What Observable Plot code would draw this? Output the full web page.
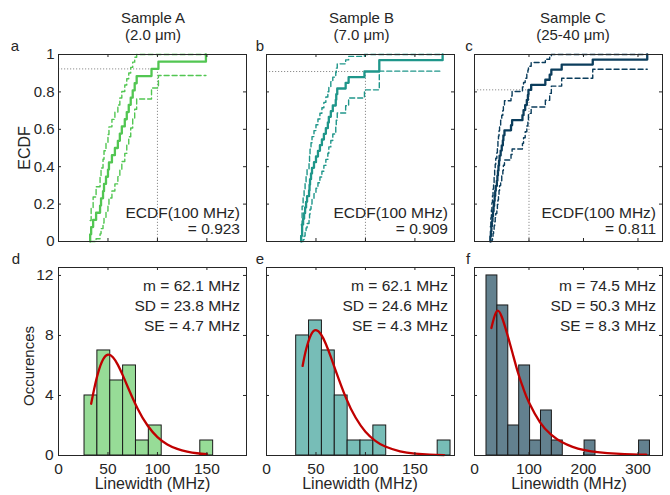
<!DOCTYPE html>
<html>
<head>
<meta charset="utf-8">
<script src="https://cdn.jsdelivr.net/npm/d3@7"></script>
<script src="https://cdn.jsdelivr.net/npm/@observablehq/plot@0.6"></script>
<style>
html, body { margin: 0; padding: 0; background: #ffffff; }
#fig { position: relative; width: 670px; height: 495px; overflow: hidden;
  font-family: "Liberation Sans", Arial, Helvetica, sans-serif; color: #262626; }
.lbl { position: absolute; font-size: 15px; line-height: 15px; white-space: nowrap; }
.lbl.big { font-size: 16px; line-height: 16px; }
</style>
</head>
<body>
<div id="fig"></div>
<script>
// ---------------- data ----------------
const sampleNames = ["Sample A", "Sample B", "Sample C"];
const sampleSizes = ["(2.0 μm)", "(7.0 μm)", "(25-40 μm)"];
const topLetters = ["a", "b", "c"];
const bottomLetters = ["d", "e", "f"];

// sorted linewidths (MHz) behind each ECDF
const linewidthA = [32,33,35,38,42,43,45,46,48,50,51,54,57,60,62,64,67,69,71,73,75,77,79,94,101,149];
const linewidthB = [35,36,36,37,38,39,40,41,43,43.5,44,45,46,48,50,52,54,56,58,60,62,63,65,67,70,70.5,71.5,80,83,99,114,114,178];
const linewidthC = [29,30,31,32,33,34,35,36,37,38,39,41,42,43,44,45,46,48,50,52,53,55,67,69,88,90,93,96,98,99,104,130,138,141,160,217,317];

// ECDF confidence bounds (dashed), one per step k = 1 .. n-1
const lowerA = [0,0,0,.015,.041,.069,.099,.130,.163,.198,.233,.270,.308,.347,.387,.428,.471,.515,.560,.607,.656,.707,.762,.821,.888];
const upperA = [.112,.179,.238,.293,.344,.393,.440,.485,.529,.572,.613,.653,.692,.730,.767,.802,.837,.870,.901,.931,.959,.985,1,1,1];
const lowerB = [0,0,0,.010,.029,.050,.073,.096,.121,.146,.173,.200,.227,.256,.285,.314,.345,.376,.407,.439,.472,.506,.540,.575,.611,.648,.687,.726,.767,.811,.858,.911];
const upperB = [.089,.142,.189,.233,.274,.313,.352,.389,.425,.460,.494,.528,.561,.593,.624,.655,.686,.715,.744,.773,.801,.827,.854,.879,.904,.927,.950,.971,.990,1,1,1];
const lowerC = [0,0,0,.008,.025,.043,.063,.084,.105,.127,.150,.174,.198,.222,.247,.273,.299,.325,.352,.380,.408,.436,.465,.495,.525,.555,.587,.618,.651,.685,.719,.755,.792,.831,.873,.921];
const upperC = [.079,.127,.169,.208,.245,.281,.315,.349,.382,.413,.445,.475,.505,.535,.564,.592,.620,.648,.675,.701,.727,.753,.778,.802,.827,.850,.873,.895,.917,.937,.957,.975,.992,1,1,1];

const ecdfAt100 = [0.923, 0.909, 0.811];
const threshold = 100; // MHz

// histograms
const binEdgesA = [26.3,39.3,52.3,65.3,78.3,91.3,104.3,117.3,130.3,143.3,156.3];
const countsA   = [4,7,5,6,1,2,0,0,0,1];
const binEdgesB = [30,43,56,69,82,95,108,121,134,147,160,173,186];
const countsB   = [8,9,7,4,1,1,2,0,0,0,0,1];
const binEdgesC = [22,42,62,82,102,122,142,162,182,202,222,242,262,282,302,322];
const countsC   = [12,10,2,6,1,3,1,0,0,1,0,0,0,0,1];

// fitted distribution curves (x in MHz, occurrences)
const fitA = [[33,3.45],[36,4.42],[40,5.51],[45,6.40],[50,6.72],[55,6.55],[60,6.04],[65,5.34],[70,4.57],[80,3.12],[90,2.00],[100,1.23],[110,0.74],[120,0.44],[130,0.26],[140,0.15],[150,0.09]];
const fitB = [[36.5,5.97],[40,7.06],[45,8.05],[50,8.35],[55,8.08],[60,7.43],[65,6.57],[70,5.64],[80,3.89],[90,2.53],[100,1.59],[110,0.98],[120,0.60],[135,0.28],[150,0.13],[165,0.06],[179.5,0.03]];
const fitC = [[31,8.5],[36,9.2],[42,9.65],[50,9.25],[60,8.1],[70,6.8],[80,5.5],[90,4.43],[100,3.53],[120,2.23],[140,1.41],[160,0.90],[180,0.58],[200,0.38],[230,0.21],[260,0.12],[290,0.07],[315,0.05]];

const meanMHz = [62.1, 62.1, 74.5];
const sdMHz   = [23.8, 24.6, 50.3];
const seMHz   = [4.7, 4.3, 8.3];

// ticks
const xTicksAB = [0, 50, 100, 150];
const xTicksC  = [0, 100, 200, 300];
const ecdfTicks = [0, 0.2, 0.4, 0.6, 0.8, 1];
const countTicks = [0, 4, 8, 12];

const lineColors = ["#52c652", "#1f968a", "#0b3d5c"];
const barColors  = ["#97dc97", "#77bdb7", "#63818f"];
const fitColor = "#c00000";
const INK = "#262626";

// ---------------- layout ----------------
const fig = document.getElementById("fig");
const frameLeft = [58, 266, 474];
const FW = 188;
const TOP = {y: 54, h: 187};
const BOT = {y: 267, h: 188};
const xMax = [190, 190, 345];
const histYMax = 12.53;

const linewidths = [linewidthA, linewidthB, linewidthC];
const lowers = [lowerA, lowerB, lowerC];
const uppers = [upperA, upperB, upperC];
const edges = [binEdgesA, binEdgesB, binEdgesC];
const counts = [countsA, countsB, countsC];
const fits = [fitA, fitB, fitC];
const xTicks = [xTicksAB, xTicksAB, xTicksC];

const baseStyle = {
  background: "transparent",
  fontFamily: "'Liberation Sans', Arial, Helvetica, sans-serif",
  fontSize: "15px",
  color: INK,
  overflow: "visible"
};

function place(svg, left, top) {
  svg.style.position = "absolute";
  svg.style.left = left + "px";
  svg.style.top = top + "px";
  fig.appendChild(svg);
}

function boxTicks(xt, yt, fh) {
  return [
    Plot.tickX(xt, {x: d => d, stroke: INK, insetTop: fh - 3}),
    Plot.tickX(xt, {x: d => d, stroke: INK, insetBottom: fh - 3}),
    Plot.tickY(yt, {y: d => d, stroke: INK, insetRight: FW - 3}),
    Plot.tickY(yt, {y: d => d, stroke: INK, insetLeft: FW - 3}),
    Plot.frame({stroke: INK, strokeWidth: 1})
  ];
}

function stairsBound(xs, bound) {
  const n = xs.length;
  const pts = bound.map((v, k) => ({x: xs[k], y: v}));
  pts.push({x: xs[n - 1], y: bound[n - 2]});
  return pts;
}

// ---------------- ECDF row ----------------
for (let i = 0; i < 3; i++) {
  const xs = linewidths[i];
  const n = xs.length;
  const solid = [{x: xs[0], y: 0}].concat(xs.map((x, k) => ({x, y: (k + 1) / n})));
  const col = lineColors[i];
  const M = {l: 45, r: 4, t: 4, b: 4};
  const marks = [
    Plot.ruleY([ecdfAt100[i]], {x1: 0, x2: threshold, stroke: "#8f8f8f", strokeWidth: 1, strokeDasharray: "1.2,1.8"}),
    Plot.ruleX([threshold], {y1: 0, y2: ecdfAt100[i], stroke: "#8f8f8f", strokeWidth: 1, strokeDasharray: "1.2,1.8"}),
    Plot.line(stairsBound(xs, lowers[i]), {x: "x", y: "y", curve: "step-after", stroke: col, strokeWidth: 1.4, strokeDasharray: "5,3"}),
    Plot.line(stairsBound(xs, uppers[i]), {x: "x", y: "y", curve: "step-after", stroke: col, strokeWidth: 1.4, strokeDasharray: "5,3"}),
    Plot.line(solid, {x: "x", y: "y", curve: "step-after", stroke: col, strokeWidth: 2.3}),
    ...boxTicks(xTicks[i], ecdfTicks, TOP.h),
    Plot.text([`ECDF(100 MHz)\n= ${ecdfAt100[i].toFixed(3)}`], {
      frameAnchor: "bottom-right", lineAnchor: "bottom", textAnchor: "end",
      dx: -6.5, dy: -7.7, lineHeight: 16 / 15.5, fill: INK, fontSize: 15.5
    })
  ];
  if (i === 0) marks.push(Plot.axisY(ecdfTicks, {tickSize: 0, tickPadding: 4, tickFormat: "~g", label: null, fontSize: 15}));
  const svg = Plot.plot({
    width: FW + M.l + M.r, height: TOP.h + M.t + M.b,
    marginLeft: M.l, marginRight: M.r, marginTop: M.t, marginBottom: M.b,
    x: {domain: [0, xMax[i]], axis: null},
    y: i === 0 ? {domain: [0, 1]} : {domain: [0, 1], axis: null},
    style: baseStyle,
    marks
  });
  place(svg, frameLeft[i] - M.l, TOP.y - M.t);
}

// ---------------- histogram row ----------------
for (let i = 0; i < 3; i++) {
  const bins = counts[i].map((c, k) => ({x1: edges[i][k], x2: edges[i][k + 1], y: c})).filter(d => d.y > 0);
  const M = {l: 45, r: 4, t: 4, b: 25};
  const marks = [
    Plot.rect(bins, {x1: "x1", x2: "x2", y1: 0, y2: "y", fill: barColors[i], stroke: "#1a1a1a", strokeWidth: 1}),
    Plot.line(fits[i], {x: d => d[0], y: d => d[1], curve: "natural", stroke: fitColor, strokeWidth: 2.3}),
    ...boxTicks(xTicks[i], countTicks, BOT.h),
    Plot.axisX(xTicks[i], {tickSize: 0, tickPadding: 7.5, label: null, fontSize: 15.5}),
    Plot.text([`m = ${meanMHz[i].toFixed(1)} MHz\nSD = ${sdMHz[i].toFixed(1)} MHz\nSE = ${seMHz[i].toFixed(1)} MHz`], {
      frameAnchor: "top-right", lineAnchor: "top", textAnchor: "end",
      dx: -6.5, dy: 9, lineHeight: 20 / 15.5, fill: INK, fontSize: 15.5
    })
  ];
  if (i === 0) marks.push(Plot.axisY(countTicks, {tickSize: 0, tickPadding: 5, label: null, fontSize: 15.5}));
  const svg = Plot.plot({
    width: FW + M.l + M.r, height: BOT.h + M.t + M.b,
    marginLeft: M.l, marginRight: M.r, marginTop: M.t, marginBottom: M.b,
    x: {domain: [0, xMax[i]]},
    y: i === 0 ? {domain: [0, histYMax]} : {domain: [0, histYMax], axis: null},
    style: baseStyle,
    marks
  });
  place(svg, frameLeft[i] - M.l, BOT.y - M.t);
}

// ---------------- text labels ----------------
function label(text, cx, baseline, rotate, big) {
  const d = document.createElement("div");
  d.className = big ? "lbl big" : "lbl";
  d.textContent = text;
  const asc = big ? 13.6 : 12.7;
  if (rotate) {
    d.style.left = cx + "px";
    d.style.top = baseline + "px";
    d.style.transform = "translate(-50%, -50%) rotate(-90deg)";
  } else {
    d.style.left = cx + "px";
    d.style.top = (baseline - asc) + "px";
    d.style.transform = "translateX(-50%)";
  }
  fig.appendChild(d);
}

const titleCenters = [153, 361.5, 573];
for (let i = 0; i < 3; i++) {
  label(sampleNames[i], titleCenters[i], 22.5);
  label(sampleSizes[i], titleCenters[i], 40);
}
const topLetterX = [15, 260, 469];
const botLetterX = [16, 260, 468];
for (let i = 0; i < 3; i++) {
  label(topLetters[i], topLetterX[i], 50.5);
  label(bottomLetters[i], botLetterX[i], 264);
}
const xLabelCenters = [152.5, 360, 569];
for (let i = 0; i < 3; i++) label("Linewidth (MHz)", xLabelCenters[i], 490, false, true);
label("ECDF", 25, 147.5, true, true);
label("Occurences", 27.5, 366, true, false);
</script>
</body>
</html>
